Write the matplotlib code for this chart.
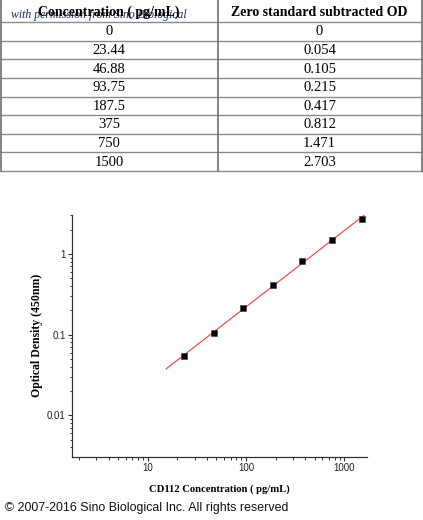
import numpy as np
import matplotlib.pyplot as plt
from matplotlib.ticker import FixedLocator, LogLocator, NullFormatter

# standard curve data
conc = [0, 23.44, 46.88, 93.75, 187.5, 375, 750, 1500]
conc_txt = ["0", "23.44", "46.88", "93.75", "187.5", "375", "750", "1500"]
od = [0, 0.054, 0.105, 0.215, 0.417, 0.812, 1.471, 2.703]
od_txt = ["0", "0.054", "0.105", "0.215", "0.417", "0.812", "1.471", "2.703"]
header = ["Concentration ( pg/mL)", "Zero standard subtracted OD"]

W, H = 423, 520
fig = plt.figure(figsize=(W / 100, H / 100), dpi=100)

# background layer in pixel coordinates for the table and footer texts
bg = fig.add_axes([0, 0, 1, 1])
bg.set_xlim(0, W)
bg.set_ylim(H, 0)
bg.axis("off")

top_h = 22
row_h = (171 - top_h) / len(conc)
col_div = 217.7
right = 421.5
ys = [top_h + i * row_h for i in range(len(conc) + 1)]
for y in ys:
    bg.plot([1, right], [y, y], color="#8a8a8a", lw=1.0)
for x in [1, col_div, right]:
    bg.plot([x, x], [0, ys[-1]], color="#707070", lw=1.2)

serif = ["Liberation Serif", "DejaVu Serif"]
bg.text(11, 15, "with permission from Sino Biological", ha="left", va="center",
        family=serif, style="italic", fontsize=8.5, color="#1c2b5e")

bg.text(col_div / 2, top_h / 2 + 1, header[0], ha="center", va="center",
        family=serif, weight="bold", fontsize=10)
bg.text((col_div + right) / 2, top_h / 2 + 1, header[1], ha="center", va="center",
        family=serif, weight="bold", fontsize=10)
for i in range(len(conc)):
    yc = top_h + (i + 0.5) * row_h + 0.5
    bg.text(col_div / 2, yc, conc_txt[i], ha="center", va="center",
            family=serif, fontsize=10.5)
    bg.text((col_div + right) / 2, yc, od_txt[i], ha="center", va="center",
            family=serif, fontsize=10.5)

bg.text(5, 508, "\u00a9 2007-2016 Sino Biological Inc. All rights reserved",
        ha="left", va="center", family=["Liberation Sans", "DejaVu Sans"],
        fontsize=8.9, color="#111111")

# the curve
ax = fig.add_axes([72 / W, 1 - 456.7 / H, 294.7 / W, 241.7 / H])
ax.set_xscale("log")
ax.set_yscale("log")
ax.set_xlim(1.7, 1690)
ax.set_ylim(0.00307, 3.04)

x = np.array(conc[1:])
y = np.array(od[1:])
k, b = np.polyfit(np.log10(x), np.log10(y), 1)
xf = np.logspace(np.log10(15.4), np.log10(1585), 50)
ax.plot(xf, 10 ** (k * np.log10(xf) + b), color="#f03c3c", lw=0.8, zorder=2)
ax.plot(x, y, "s", color="black", markersize=3.9, markeredgecolor="#333333",
        markeredgewidth=0.4, zorder=3)

for s in ["top", "right"]:
    ax.spines[s].set_visible(False)
for s in ["left", "bottom"]:
    ax.spines[s].set_color("#333333")
    ax.spines[s].set_linewidth(0.9)

ax.xaxis.set_major_locator(FixedLocator([10, 100, 1000]))
ax.set_xticklabels(["10", "100", "1000"])
ax.yaxis.set_major_locator(FixedLocator([0.01, 0.1, 1]))
ax.set_yticklabels(["0.01", "0.1", "1"])
ax.xaxis.set_minor_locator(LogLocator(base=10, subs=np.arange(2, 10)))
ax.yaxis.set_minor_locator(LogLocator(base=10, subs=np.arange(2, 10)))
ax.xaxis.set_minor_formatter(NullFormatter())
ax.yaxis.set_minor_formatter(NullFormatter())
ax.tick_params(which="major", direction="out", length=3, width=0.8,
               color="#333333", labelsize=7, pad=1.5, labelcolor="#222222")
ax.tick_params(which="minor", direction="out", length=1.8, width=0.7,
               color="#333333")
for lab in ax.get_xticklabels() + ax.get_yticklabels():
    lab.set_family(["Liberation Sans", "DejaVu Sans"])

ax.set_xlabel("CD112 Concentration ( pg/mL)", family=serif, weight="bold",
              fontsize=7.7, labelpad=8)
ax.set_ylabel("Optical Density (450nm)", family=serif, weight="bold",
              fontsize=8.5, labelpad=3)

fig.savefig("out.png", dpi=100)
